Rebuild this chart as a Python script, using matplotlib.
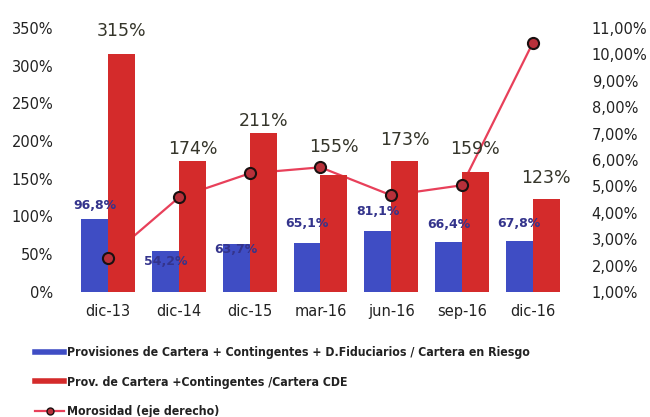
import numpy as np
import matplotlib.pyplot as plt
from matplotlib.lines import Line2D

# datos
periodos = ['dic-13', 'dic-14', 'dic-15', 'mar-16', 'jun-16', 'sep-16', 'dic-16']
cobertura_riesgo = [96.8, 54.2, 63.7, 65.1, 81.1, 66.4, 67.8]
cobertura_cde = [315, 174, 211, 155, 173, 159, 123]
morosidad = [2.28, 4.58, 5.49, 5.72, 4.66, 5.04, 10.43]

# desplazamientos de las etiquetas (puntos)
off_rojo = [10, 2, 2, 14, 9, 10, 9]
off_azul = [5, -12, -9, 9, 9, 8, 8]

azul = '#3f4dc4'
rojo = '#d42b2b'
linea = '#e8405a'

fig = plt.figure(figsize=(6.5, 4.17), dpi=100)
fig.subplots_adjust(left=0.112, right=0.874, bottom=0.30, top=0.933)
ax = fig.add_subplot(111)

x = np.arange(len(periodos))
w = 0.38
b1 = ax.bar(x - w / 2, cobertura_riesgo, w, color=azul, zorder=2)
b2 = ax.bar(x + w / 2, cobertura_cde, w, color=rojo, zorder=2)

for rect, v, o in zip(b1, cobertura_riesgo, off_azul):
    ax.annotate(f'{v:.1f}%'.replace('.', ','), (rect.get_x() + rect.get_width() / 2, v),
                xytext=(0, o), textcoords='offset points', ha='center', va='bottom',
                fontsize=9, fontweight='bold', color='#34348c', zorder=5)
for rect, v, o in zip(b2, cobertura_cde, off_rojo):
    ax.annotate(f'{v}%', (rect.get_x() + rect.get_width() / 2, v),
                xytext=(0, o), textcoords='offset points', ha='center', va='bottom',
                fontsize=12.5, color='#35352a', zorder=5)

ax.set_xlim(-0.5, len(periodos) - 0.5)
ax.set_ylim(0, 350)
ax.set_yticks(range(0, 351, 50))
ax.set_yticklabels([f'{v}%' for v in range(0, 351, 50)])
ax.set_xticks(x)
ax.set_xticklabels(periodos)
ax.tick_params(axis='both', length=0, labelsize=10.5, labelcolor='#222222')
ax.tick_params(axis='y', pad=14)
ax.tick_params(axis='x', pad=9)
for s in ax.spines.values():
    s.set_visible(False)

# linea de morosidad detras de las barras
ax2 = ax.twinx()
ax2.plot(x, morosidad, color=linea, lw=1.6)
ax2.set_ylim(1, 11)
ax2.set_yticks(range(1, 12))
ax2.set_yticklabels([f'{v},00%' for v in range(1, 12)])
ax2.tick_params(axis='y', length=0, labelsize=10.5, labelcolor='#222222', pad=17)
for s in ax2.spines.values():
    s.set_visible(False)
ax.set_zorder(ax2.get_zorder() + 1)
ax.patch.set_visible(False)

# marcadores por encima
ax3 = ax.twinx()
ax3.plot(x, morosidad, 'o', ms=8, mfc='#b8303a', mec='#1a1010', mew=1.5)
ax3.set_ylim(1, 11)
ax3.set_axis_off()
ax3.set_zorder(ax.get_zorder() + 1)

handles = [
    Line2D([], [], color=azul, lw=4),
    Line2D([], [], color=rojo, lw=4),
    Line2D([], [], color=linea, lw=1.6, marker='o', ms=5, mfc='#b8303a', mec='#1a1010'),
]
labels = [
    'Provisiones de Cartera + Contingentes + D.Fiduciarios / Cartera en Riesgo',
    'Prov. de Cartera +Contingentes /Cartera CDE',
    'Morosidad (eje derecho)',
]
fig.legend(handles, labels, loc='upper left', bbox_to_anchor=(0.054, 0.17),
           frameon=False, handlelength=2.4, handletextpad=0.25, labelspacing=1.35,
           borderaxespad=0, borderpad=0,
           prop={'family': 'DejaVu Sans', 'stretch': 'condensed', 'weight': 'bold', 'size': 8.8},
           labelcolor='#222222')

fig.savefig('out.png', dpi=100)
